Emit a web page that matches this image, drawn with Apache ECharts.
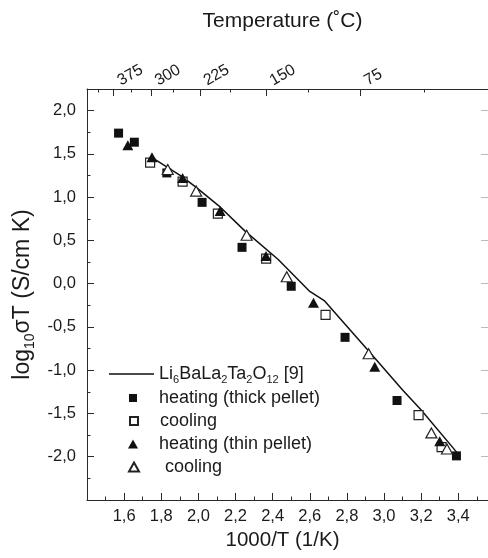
<!DOCTYPE html>
<html><head><meta charset="utf-8">
<script src="https://cdn.jsdelivr.net/npm/echarts@6/dist/echarts.min.js"></script>
<style>html,body{margin:0;padding:0;background:#fff}#c{width:488px;height:558px}</style>
</head><body><div id="c"></div>
<script>
// ---- data ----
const seriesNames = ['Li6BaLa2Ta2O12 [9]', 'heating (thick pellet)', 'cooling', 'heating (thin pellet)', ' cooling'];
const refLine = [[1.74,1.47],[1.91,1.24],[1.99,1.11],[2.11,0.90],[2.25,0.61],[2.43,0.28],[2.60,-0.09],[2.68,-0.20],[2.91,-0.76],[3.10,-1.23],[3.20,-1.46],[3.40,-1.97]];
const heatingThick = [[1.57,1.74],[1.655,1.635],[1.83,1.28],[2.02,0.94],[2.235,0.42],[2.50,-0.03],[2.79,-0.62],[3.07,-1.35],[3.39,-1.99]];
const coolingThick = [[1.74,1.40],[1.915,1.18],[2.105,0.81],[2.365,0.29],[2.685,-0.36],[3.186,-1.52],[3.31,-1.89]];
const heatingThin = [[1.62,1.60],[1.75,1.46],[1.915,1.22],[2.117,0.84],[2.364,0.32],[2.62,-0.22],[2.95,-0.96],[3.30,-1.82]];
const coolingThin = [[1.835,1.32],[1.988,1.07],[2.26,0.56],[2.476,0.08],[2.917,-0.81],[3.255,-1.725],[3.339,-1.91]];
const xTickLabels = [1.6,1.8,2.0,2.2,2.4,2.6,2.8,3.0,3.2,3.4];
const xMinorTicks = [1.5,1.7,1.9,2.1,2.3,2.5,2.7,2.9,3.1,3.3,3.5];
const yTickLabels = [-2.0,-1.5,-1.0,-0.5,0.0,0.5,1.0,1.5,2.0];
const yMinorTicks = [-2.25,-1.75,-1.25,-0.75,-0.25,0.25,0.75,1.25,1.75];
const topTempLabels = [375,300,225,150,75];
const topTempMinor = [412.5,337.5,262.5,187.5,112.5,37.5];

// ---- helpers ----
const FONT = '"Liberation Sans", Arial, Helvetica, sans-serif';
const TXT = '#1a1a1a';
const AX = '#2a2a2a';
const toInvT = c => 1000 / (c + 273.15);
const comma = v => v.toFixed(1).replace('.', ',');
const XMIN = 1.4, XMAX = 3.56, YMIN = -2.5, YMAX = 2.25;
const subRich = {
  a: {fontSize: 18, fontFamily: FONT, color: TXT, lineHeight: 22, verticalAlign: 'middle'},
  b: {fontSize: 11, fontFamily: FONT, color: TXT, lineHeight: 11, verticalAlign: 'bottom'}
};
const yNameRich = {
  a: {fontSize: 23, fontFamily: FONT, color: TXT, lineHeight: 28, verticalAlign: 'middle'},
  b: {fontSize: 14, fontFamily: FONT, color: TXT, lineHeight: 14, verticalAlign: 'bottom'}
};

function legendFor(name, left, top, w, h, pad, icon) {
  return {
    data: [icon ? {name: name, icon: icon} : name], left: left, top: top, orient: 'vertical', padding: 0,
    itemWidth: w, itemHeight: h, selectedMode: false,
    textStyle: {fontSize: 18, fontFamily: FONT, color: TXT, padding: [0,0,0,pad], rich: subRich},
    formatter: n => n === seriesNames[0] ? '{a|Li}{b|6}{a|BaLa}{b|2}{a|Ta}{b|2}{a|O}{b|12}{a| [9]}' : n
  };
}

const option = {
  animation: false,
  backgroundColor: '#fff',
  grid: {left: 87, top: 89, right: -4, bottom: 58, containLabel: false},
  legend: [
    legendFor(seriesNames[0], 109, 365, 45, 1.5, 0, 'rect'),
    legendFor(seriesNames[1], 129, 389, 8, 8, 17),
    legendFor(seriesNames[2], 129, 412, 8, 8, 17),
    legendFor(seriesNames[3], 128, 435, 10, 9, 16),
    legendFor(seriesNames[4], 128, 458, 10, 9, 16)
  ],
  xAxis: [
    { type: 'value', position: 'bottom', min: XMIN, max: XMAX,
      name: '1000/T (1/K)', nameLocation: 'middle', nameGap: 29,
      nameTextStyle: {fontSize: 20.5, fontFamily: FONT, color: TXT, padding: [0,10,0,0]},
      axisLine: {show: true, onZero: false, lineStyle: {color: AX, width: 1}},
      axisTick: {show: true, inside: true, length: 7, customValues: xTickLabels, lineStyle: {color: AX}},
      axisLabel: {show: true, customValues: xTickLabels, formatter: v => comma(v), fontSize: 16.5, fontFamily: FONT, color: TXT, margin: 8},
      splitLine: {show: false}
    },
    { type: 'value', position: 'bottom', min: XMIN, max: XMAX,
      axisLine: {show: false, onZero: false},
      axisTick: {show: true, inside: true, length: 3.5, customValues: xMinorTicks, lineStyle: {color: AX}},
      axisLabel: {show: false}, splitLine: {show: false}
    },
    { type: 'value', position: 'top', min: XMIN, max: XMAX,
      name: 'Temperature (˚C)', nameLocation: 'middle', nameGap: 57,
      nameTextStyle: {fontSize: 21, fontFamily: FONT, color: TXT, padding: [0,10,0,0]},
      axisLine: {show: true, onZero: false, lineStyle: {color: AX, width: 1}},
      axisTick: {show: true, inside: true, length: 7, customValues: topTempLabels.map(toInvT), lineStyle: {color: AX}},
      axisLabel: {show: true, customValues: topTempLabels.map(toInvT), rotate: -30,
        formatter: v => String(Math.round(1000 / v - 273.15)), fontSize: 16, fontFamily: FONT, color: TXT, margin: 4,
        padding: [0,0,0,6]},
      splitLine: {show: false}
    },
    { type: 'value', position: 'top', min: XMIN, max: XMAX,
      axisLine: {show: false, onZero: false},
      axisTick: {show: true, inside: true, length: 3.5, customValues: topTempMinor.map(toInvT), lineStyle: {color: AX}},
      axisLabel: {show: false}, splitLine: {show: false}
    }
  ],
  yAxis: [
    { type: 'value', position: 'left', min: YMIN, max: YMAX,
      name: '{a|log}{b|10}{a|σT (S/cm K)}', nameLocation: 'middle', nameGap: 47, nameRotate: 90,
      nameTextStyle: {rich: yNameRich},
      axisLine: {show: true, onZero: false, lineStyle: {color: AX, width: 1}},
      axisTick: {show: true, inside: true, length: 7, customValues: yTickLabels, lineStyle: {color: AX}},
      axisLabel: {show: true, customValues: yTickLabels, formatter: v => comma(v), fontSize: 16.5, fontFamily: FONT, color: TXT, margin: 11},
      splitLine: {show: false}
    },
    { type: 'value', position: 'left', min: YMIN, max: YMAX,
      axisLine: {show: false, onZero: false},
      axisTick: {show: true, inside: true, length: 3.5, customValues: yMinorTicks, lineStyle: {color: AX}},
      axisLabel: {show: false}, splitLine: {show: false}
    },
    { type: 'value', position: 'right', min: YMIN, max: YMAX,
      axisLine: {show: false, onZero: false},
      axisTick: {show: true, inside: true, length: 7, customValues: yTickLabels, lineStyle: {color: '#bbb'}},
      axisLabel: {show: false}, splitLine: {show: false}
    }
  ],
  series: [
    { name: seriesNames[0], type: 'line', data: refLine, xAxisIndex: 0, yAxisIndex: 0,
      showSymbol: false, symbol: 'none', smooth: false,
      lineStyle: {color: '#111', width: 1.5}, itemStyle: {color: '#111'}, z: 3 },
    { name: seriesNames[1], type: 'scatter', data: heatingThick, symbol: 'rect', symbolSize: 9,
      itemStyle: {color: '#111', opacity: 1}, z: 4 },
    { name: seriesNames[2], type: 'scatter', data: coolingThick, symbol: 'rect', symbolSize: 9,
      itemStyle: {color: '#fff', borderColor: '#222', borderWidth: 1.2, opacity: 1}, z: 4 },
    { name: seriesNames[3], type: 'scatter', data: heatingThin, symbol: 'triangle', symbolSize: [11,10],
      itemStyle: {color: '#111', opacity: 1}, z: 5 },
    { name: seriesNames[4], type: 'scatter', data: coolingThin, symbol: 'triangle', symbolSize: [11,10],
      itemStyle: {color: '#fff', borderColor: '#222', borderWidth: 1.2, opacity: 1}, z: 5 }
  ]
};
const chart = echarts.init(document.getElementById('c'), null, {renderer: 'canvas'});
chart.setOption(option);
</script>
</body></html>
